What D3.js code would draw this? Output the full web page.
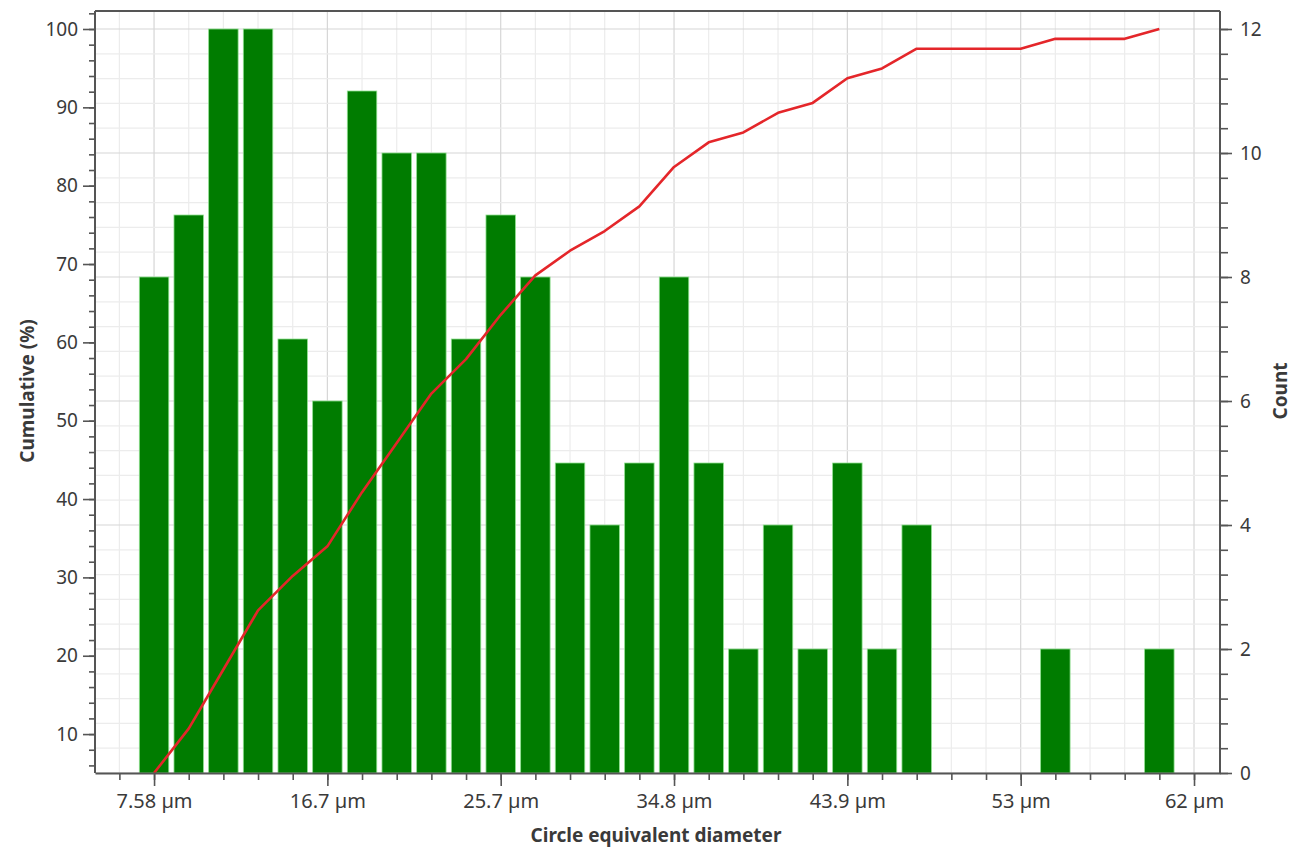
<!DOCTYPE html>
<html>
<head>
<meta charset="utf-8">
<script src="https://cdn.jsdelivr.net/npm/d3@7"></script>
<style>
  body { margin: 0; background: #fff; }
  svg text { font-family: "Noto Sans", "Open Sans", sans-serif; fill: #3a3a3a; }
  .axis path, .axis line { stroke: #555; }
  .axis path { stroke-width: 2; }
  .axis line { stroke-width: 1.6; }
</style>
</head>
<body>
<svg id="chart"></svg>
<script>
  // histogram bins (µm) and counts per bin
  const binStart = 7.58;
  const binWidth = 1.814;
  const counts = [8, 9, 12, 12, 7, 6, 11, 10, 10, 7, 9, 8, 5, 4, 5, 8, 5, 2, 4, 2, 5, 2, 4, 0, 0, 0, 2, 0, 0, 2];

  const xTickValues = [7.58, 16.65, 25.72, 34.79, 43.86, 52.93, 62.0];
  const xTickLabels = ['7.58 µm', '16.7 µm', '25.7 µm', '34.8 µm', '43.9 µm', '53 µm', '62 µm'];
  const leftTicks = [10, 20, 30, 40, 50, 60, 70, 80, 90, 100];
  const rightTicks = [0, 2, 4, 6, 8, 10, 12];

  const margin = { top: 11, right: 72, bottom: 77, left: 95 };
  const width = 1292 - margin.left - margin.right;
  const height = 850 - margin.top - margin.bottom;
  const topPad = 18;

  const centers = counts.map((_, i) => binStart + i * binWidth);
  const total = d3.sum(counts);
  const cumulative = Array.from(d3.cumsum(counts), (c) => c / total * 100);

  const svg = d3.select('#chart')
    .attr('width', width + margin.left + margin.right)
    .attr('height', height + margin.top + margin.bottom);

  const g = svg.append('g')
    .attr('transform', `translate(${margin.left},${margin.top})`);

  // scales
  const xscale = d3.scaleLinear().domain([4.49, 63.36]).range([0, width]);
  const ycount = d3.scaleLinear().domain([0, d3.max(counts)]).range([height, topPad]);
  const ycum = d3.scaleLinear().domain([cumulative[0], 100]).range([height, topPad]);

  const minorX = d3.range(-1, 31).map((i) => binStart + i * binWidth)
    .filter((v) => v >= xscale.domain()[0] && v <= xscale.domain()[1]);
  const minorCount = d3.range(0, 31).map((i) => i * 0.4).filter((v) => ycount(v) >= 0);
  const minorCum = d3.range(6, 103, 2);

  // grid
  const grid = g.append('g').attr('class', 'grid');
  grid.selectAll('line.vx').data(minorX).join('line')
    .attr('x1', (d) => xscale(d)).attr('x2', (d) => xscale(d))
    .attr('y1', 0).attr('y2', height)
    .attr('stroke', (d, i) => ((i - 1) % 5 === 0 ? '#d6d6d6' : '#ececec'))
    .attr('stroke-width', 1.2);
  grid.selectAll('line.hy').data(minorCount).join('line')
    .attr('x1', 0).attr('x2', width)
    .attr('y1', (d) => ycount(d)).attr('y2', (d) => ycount(d))
    .attr('stroke', (d, i) => (i % 5 === 0 ? '#d6d6d6' : '#ececec'))
    .attr('stroke-width', 1.2);

  // bars
  const barW = xscale(binWidth * 0.85) - xscale(0);
  g.append('g').selectAll('rect').data(counts).join('rect')
    .attr('x', (d, i) => xscale(centers[i]) - barW / 2)
    .attr('width', barW)
    .attr('y', (d) => ycount(d))
    .attr('height', (d) => height - ycount(d))
    .attr('fill', '#007c00')
    .attr('stroke', '#8fe08f')
    .attr('stroke-width', (d) => (d > 0 ? 0.8 : 0));

  // cumulative line
  const line = d3.line()
    .x((d, i) => xscale(centers[i]))
    .y((d) => ycum(d));
  g.append('path').datum(cumulative)
    .attr('d', line)
    .attr('fill', 'none')
    .attr('stroke', '#e4262a')
    .attr('stroke-width', 2.6)
    .attr('stroke-linejoin', 'round');

  // frame top
  g.append('line').attr('x1', 0).attr('x2', width).attr('y1', 0).attr('y2', 0)
    .attr('stroke', '#555').attr('stroke-width', 2);

  // axes
  const fontSize = '19px';
  const xAxis = g.append('g').attr('class', 'axis')
    .attr('transform', `translate(0,${height})`);
  xAxis.call(d3.axisBottom(xscale).tickValues(minorX).tickSize(7).tickFormat('').tickSizeOuter(0));
  xAxis.append('g').call(d3.axisBottom(xscale).tickValues(xTickValues).tickSize(13).tickSizeOuter(0)
    .tickPadding(8).tickFormat((d, i) => xTickLabels[i]))
    .call((s) => s.select('.domain').remove())
    .selectAll('text').style('font-size', '20px').attr('fill', '#3a3a3a');

  const leftAxis = g.append('g').attr('class', 'axis');
  leftAxis.call(d3.axisLeft(ycum).tickValues(minorCum).tickSize(6).tickFormat('').tickSizeOuter(0));
  leftAxis.select('.domain').attr('d', `M0,0V${height}`);
  leftAxis.append('g').call(d3.axisLeft(ycum).tickValues(leftTicks).tickSize(12).tickPadding(5).tickSizeOuter(0))
    .call((s) => s.select('.domain').remove())
    .selectAll('text').style('font-size', fontSize).attr('fill', '#3a3a3a');

  const rightAxis = g.append('g').attr('class', 'axis')
    .attr('transform', `translate(${width},0)`);
  rightAxis.call(d3.axisRight(ycount).tickValues(minorCount).tickSize(8).tickFormat('').tickSizeOuter(0));
  rightAxis.select('.domain').attr('d', `M0,0V${height}`);
  rightAxis.append('g').call(d3.axisRight(ycount).tickValues(rightTicks).tickSize(12).tickPadding(8).tickSizeOuter(0))
    .call((s) => s.select('.domain').remove())
    .selectAll('text').style('font-size', fontSize).attr('fill', '#3a3a3a');

  // axis titles
  svg.append('text')
    .attr('x', 656).attr('y', 842)
    .attr('text-anchor', 'middle')
    .style('font-size', '19px').style('font-weight', 'bold')
    .text('Circle equivalent diameter');
  svg.append('text')
    .attr('transform', 'translate(34,391) rotate(-90)')
    .attr('text-anchor', 'middle')
    .style('font-size', '19px').style('font-weight', 'bold')
    .text('Cumulative (%)');
  svg.append('text')
    .attr('transform', 'translate(1287,391) rotate(-90)')
    .attr('text-anchor', 'middle')
    .style('font-size', '19px').style('font-weight', 'bold')
    .text('Count');
</script>
</body>
</html>
